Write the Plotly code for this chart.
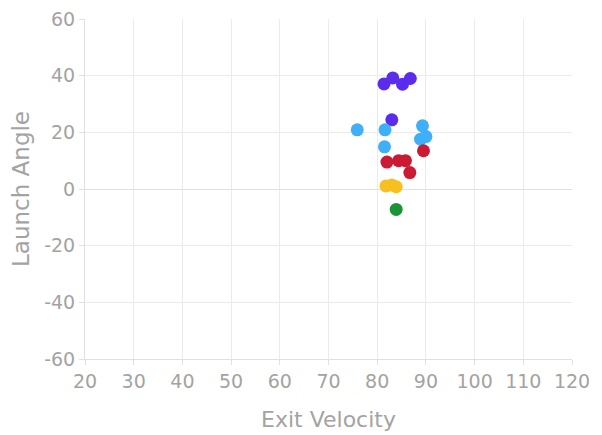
import plotly.graph_objects as go

# Data
purple_x = [81.4, 83.2, 85.2, 86.8, 83.0]
purple_y = [37.1, 39.2, 37.0, 39.0, 24.4]
blue_x = [75.9, 81.6, 81.5, 89.3, 88.9, 90.0]
blue_y = [20.9, 20.9, 14.9, 22.3, 17.6, 18.5]
red_x = [82.0, 84.4, 85.8, 86.7, 89.5]
red_y = [9.5, 10.0, 10.0, 5.8, 13.5]
yellow_x = [81.8, 83.0, 83.9]
yellow_y = [1.1, 1.4, 0.8]
green_x = [83.9]
green_y = [-7.2]

x_ticks = list(range(20, 121, 10))
x_labels = [str(v) for v in x_ticks]
y_ticks = list(range(-60, 61, 20))
y_labels = ["-60", "-40", "-20", "0", "20", "40", "60"]

series = [
    (purple_x, purple_y, "#5b2cec"),
    (blue_x, blue_y, "#3fb0f8"),
    (red_x, red_y, "#cb1a33"),
    (yellow_x, yellow_y, "#f8c01e"),
    (green_x, green_y, "#1a9435"),
]

fig = go.Figure()
for xs, ys, c in series:
    fig.add_trace(go.Scatter(x=xs, y=ys, mode="markers",
                             marker=dict(size=13, color=c, line=dict(width=0)),
                             showlegend=False))

font_family = "DejaVu Sans, sans-serif"
txt_color = "#a3a3a3"
axis_common = dict(
    showgrid=True, gridcolor="#ebebeb", gridwidth=1,
    showline=True, linecolor="#e0e0e0", linewidth=1,
    ticks="outside", ticklen=5, tickcolor="#e0e0e0",
    tickfont=dict(size=19, color=txt_color, family=font_family),
    zeroline=True, zerolinecolor="#e0e0e0", zerolinewidth=1,
    automargin=False, ticklabeloverflow="allow",
)

fig.update_layout(
    width=602, height=435,
    margin=dict(l=77, r=38, t=11, b=84, autoexpand=False),
    plot_bgcolor="white", paper_bgcolor="white",
    xaxis=dict(range=[20, 120], tickvals=x_ticks, ticktext=x_labels,
               title=dict(text="Exit Velocity", font=dict(size=22, color=txt_color, family=font_family), standoff=20),
               **axis_common),
    yaxis=dict(range=[-60, 60], tickvals=y_ticks, ticktext=y_labels,
               title=dict(text="Launch Angle", font=dict(size=23, color=txt_color, family=font_family), standoff=10),
               **axis_common),
)

fig.write_html("out.html")
